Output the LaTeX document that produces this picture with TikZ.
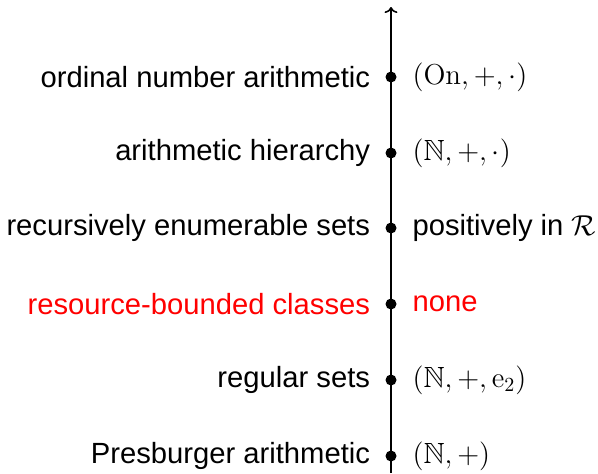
\documentclass[tikz,border=0pt]{standalone}
\usepackage{amsmath,amssymb}
\usepackage[no-math]{fontspec}
\setmainfont{Liberation Sans}
\usetikzlibrary{positioning,arrows.meta}
\tikzset{
  levdot/.style={circle,fill=black,inner sep=0pt,minimum size=5.5pt},
  levtext/.style={font=\fontsize{14.6}{17}\selectfont,inner sep=0.3333em},
}

\begin{document}
\begin{tikzpicture}[x=0.5pt,y=-0.5pt]
    \useasboundingbox (0,0) rectangle (598,473);
    \coordinate (bot) at (391,473);
    \coordinate (top) at (391,7);
    \draw[-{To[length=3pt,width=6.5pt]},line width=0.8pt] (bot) -- (top);
    \foreach \y/\name/\col/\lft/\rgt in {
        77/ord/black/{ordinal number arithmetic}/{$(\mathrm{On},+,\cdot)$},
        153/ah/black/{arithmetic hierarchy}/{$(\mathbb{N},+,\cdot)$},
        228/re/black/{recursively enumerable sets}/{positively in $\mathcal{R}$},
        304/rb/red/{resource-bounded classes}/{none},
        380/reg/black/{regular sets}/{$(\mathbb{N},+,\mathrm{e}_2)$},
        456/pres/black/{Presburger arithmetic}/{$(\mathbb{N},+)$}} {
      \node[levdot] (\name) at (391,\y) {};
      \node[levtext,\col,left=4pt of \name] (\name-l) {\lft};
      \node[levtext,\col,right=4.3pt of \name] (\name-r) {\rgt};
    }
  \end{tikzpicture}
\end{document}
